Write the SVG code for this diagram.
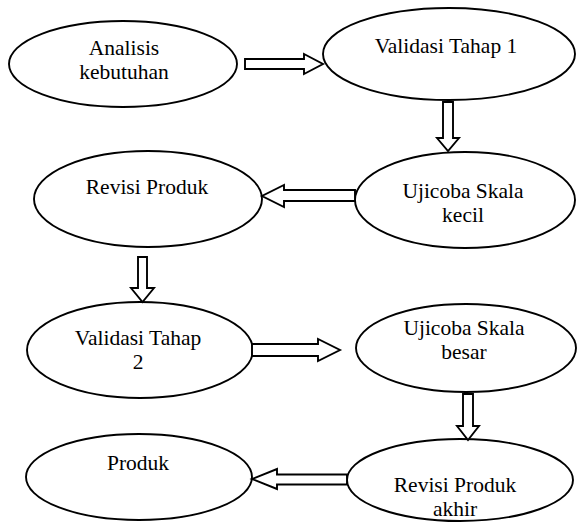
<svg xmlns="http://www.w3.org/2000/svg" width="578" height="522" viewBox="0 0 578 522">
<style>
.node ellipse{fill:#fff;stroke:#000;stroke-width:1.9}
.node text{font-family:"Liberation Serif","Times New Roman",serif;font-size:21.5px;fill:#000;text-anchor:middle}
.conn polygon{fill:#fff;stroke:#000;stroke-width:1.9;stroke-linejoin:miter}
</style>
<rect width="578" height="522" fill="#fff"/>
<g id="n1" class="node"><ellipse cx="123" cy="64" rx="114" ry="43"/><text x="124" y="55">Analisis</text><text x="124" y="79">kebutuhan</text></g>
<g id="n2" class="node"><ellipse cx="449" cy="54" rx="126" ry="46"/><text x="446" y="53">Validasi Tahap 1</text></g>
<g id="n3" class="node"><ellipse cx="465" cy="200" rx="110" ry="48"/><text x="463" y="198">Ujicoba Skala</text><text x="463" y="222">kecil</text></g>
<g id="n4" class="node"><ellipse cx="148" cy="199" rx="114" ry="48"/><text x="147" y="194">Revisi Produk</text></g>
<g id="n5" class="node"><ellipse cx="140" cy="350" rx="113" ry="48"/><text x="138" y="345">Validasi Tahap</text><text x="138" y="369">2</text></g>
<g id="n6" class="node"><ellipse cx="466" cy="348" rx="110" ry="44"/><text x="464" y="335">Ujicoba Skala</text><text x="464" y="359">besar</text></g>
<g id="n7" class="node"><ellipse cx="460" cy="480" rx="113" ry="41"/><text x="455" y="492">Revisi Produk</text><text x="455" y="516">akhir</text></g>
<g id="n8" class="node"><ellipse cx="139" cy="477" rx="113" ry="43"/><text x="138" y="470">Produk</text></g>
<g id="connectors" class="conn">
<polygon points="245,59 304,59 304,54 323,64 304,74 304,69 245,69"/>
<polygon points="443,102 453,102 453,138 459,138 448,151 437,138 443,138"/>
<polygon points="355,190 284,190 284,185 262,196 284,207 284,201 355,201"/>
<polygon points="138,257 147,257 147,288 154,288 142.5,302 131,288 138,288"/>
<polygon points="252,344 318,344 318,339 340,350 318,361 318,356 252,356"/>
<polygon points="463,394 473,394 473,426 479,426 468,440 457,426 463,426"/>
<polygon points="347,474.5 277,474.5 277,469 252,479 277,489 277,484.5 347,484.5"/>
</g>
</svg>
